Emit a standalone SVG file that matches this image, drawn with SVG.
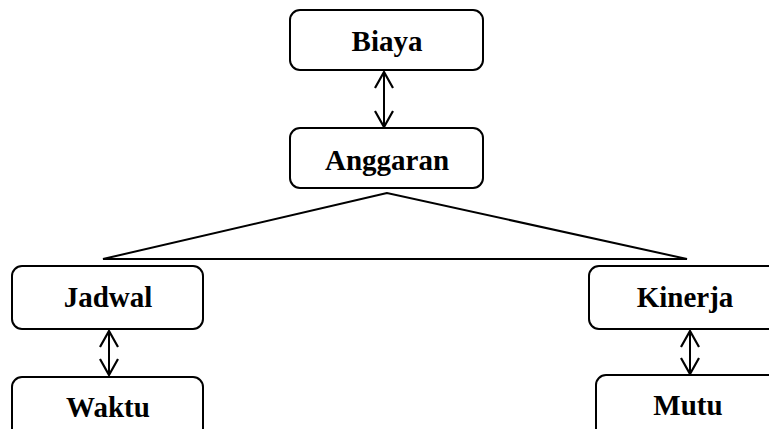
<svg xmlns="http://www.w3.org/2000/svg" width="769" height="429" viewBox="0 0 769 429">
  <style>
    .box { fill: #ffffff; stroke: #000000; stroke-width: 2; }
    .lbl { font-family: "Liberation Serif", "Times New Roman", serif; font-weight: bold; font-size: 29px; fill: #000000; text-anchor: middle; }
    .ln { fill: none; stroke: #000000; stroke-width: 2; }
  </style>
  <defs>
    <marker id="open" viewBox="0 0 20 20" refX="18" refY="10" markerWidth="20" markerHeight="20" markerUnits="userSpaceOnUse" orient="auto-start-reverse">
      <path d="M2,1 L18,10 L2,19" fill="none" stroke="#000000" stroke-width="2.2"/>
    </marker>
  </defs>

  <rect width="769" height="429" fill="#ffffff"/>

  <g id="connectors">
    <line class="ln" x1="384" y1="72" x2="384" y2="127" marker-start="url(#open)" marker-end="url(#open)"/>
    <polygon class="ln" points="387,193 103,259 687,259" stroke-linejoin="miter"/>
    <line class="ln" x1="109" y1="331" x2="109" y2="375" marker-start="url(#open)" marker-end="url(#open)"/>
    <line class="ln" x1="690" y1="331" x2="690" y2="374" marker-start="url(#open)" marker-end="url(#open)"/>
  </g>

  <g id="biaya">
    <rect class="box" x="290" y="10" width="193" height="60" rx="10"/>
    <text class="lbl" x="387" y="51">Biaya</text>
  </g>
  <g id="anggaran">
    <rect class="box" x="290" y="128" width="193" height="60" rx="10"/>
    <text class="lbl" x="387" y="170">Anggaran</text>
  </g>
  <g id="jadwal">
    <rect class="box" x="12" y="266" width="191" height="63" rx="10"/>
    <text class="lbl" x="108" y="307">Jadwal</text>
  </g>
  <g id="waktu">
    <rect class="box" x="12" y="377" width="191" height="70" rx="10"/>
    <text class="lbl" x="108" y="417">Waktu</text>
  </g>
  <g id="kinerja">
    <rect class="box" x="589" y="266" width="200" height="63" rx="10"/>
    <text class="lbl" x="685" y="307">Kinerja</text>
  </g>
  <g id="mutu">
    <rect class="box" x="596" y="375" width="200" height="70" rx="10"/>
    <text class="lbl" x="688" y="415">Mutu</text>
  </g>
</svg>
